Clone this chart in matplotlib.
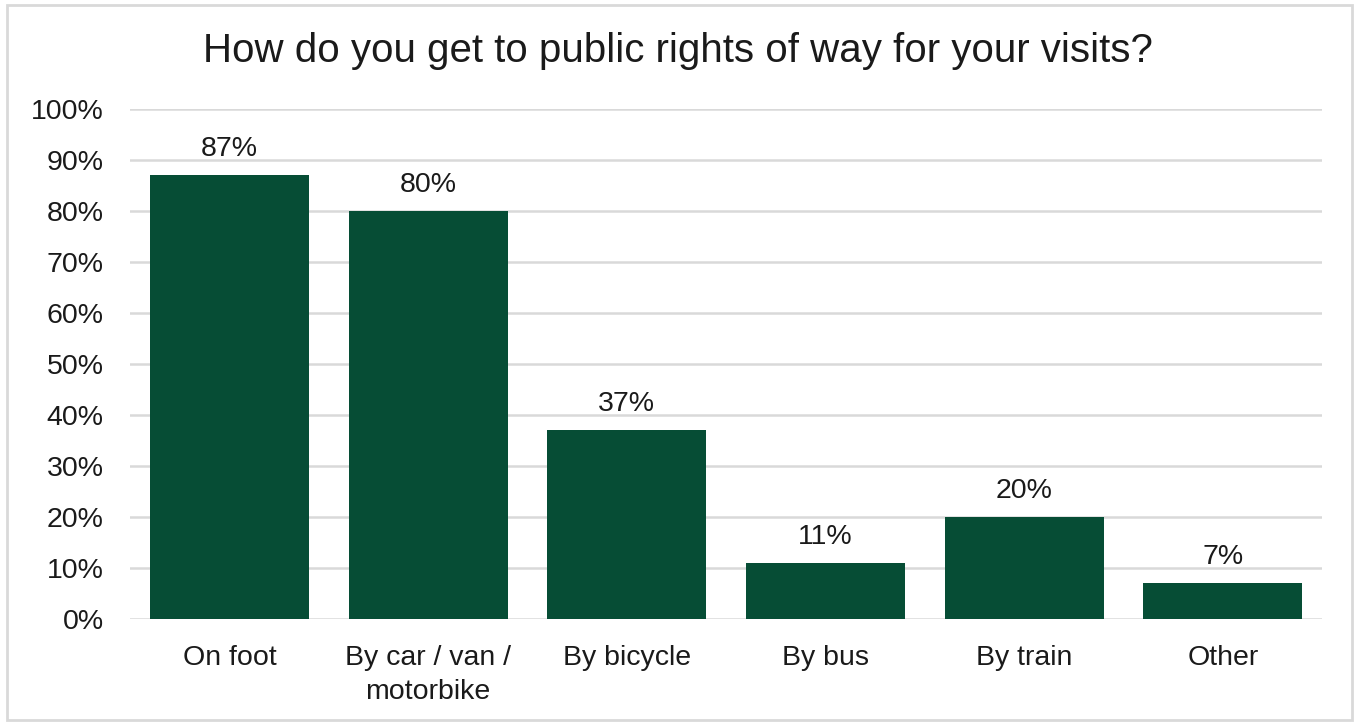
import matplotlib
matplotlib.use('Agg')
from matplotlib import pyplot as plt
from matplotlib.patches import Rectangle
import numpy as np

categories = ['On foot', 'By car / van /\nmotorbike', 'By bicycle', 'By bus', 'By train', 'Other']
values = [87, 80, 37, 11, 20, 7]
yticks = list(range(0, 101, 10))

plt.rcParams['font.family'] = ['Liberation Sans', 'DejaVu Sans']

fig = plt.figure(figsize=(13.56, 7.22), dpi=100)
ax = fig.add_axes([0.0959, 0.1427, 0.8791, 0.7063])

# light grey frame round the whole chart
fig.patches.append(Rectangle((0.005, 0.003), 0.992, 0.99, transform=fig.transFigure,
                             fill=False, edgecolor='#D9D9D9', linewidth=2))

x = np.arange(len(categories))
bars = ax.bar(x, values, width=0.8, color='#064D35', zorder=2)

for b, v in zip(bars, values):
    ax.text(b.get_x() + b.get_width() / 2, v + 2.6, f'{v}%',
            ha='center', va='bottom', fontsize=20.5, color='#1a1a1a')

ax.set_xlim(-0.5, len(categories) - 0.5)
ax.set_ylim(0, 100)
ax.set_yticks(yticks)
ax.set_yticklabels([f'{t}%' for t in yticks])
ax.yaxis.grid(True, color='#D9D9D9', linewidth=1.8, zorder=0)
ax.set_axisbelow(True)
ax.tick_params(axis='y', length=0, pad=19, labelsize=20.5, labelcolor='#1a1a1a')
ax.set_xticks(x)
ax.set_xticklabels(categories, linespacing=1.4)
ax.tick_params(axis='x', length=0, pad=19, labelsize=20.5, labelcolor='#1a1a1a')
for s in ax.spines.values():
    s.set_visible(False)

fig.text(0.5, 0.929, 'How do you get to public rights of way for your visits?',
         ha='center', va='center', fontsize=29, color='#1a1a1a')

plt.savefig('out.png', dpi=100)
